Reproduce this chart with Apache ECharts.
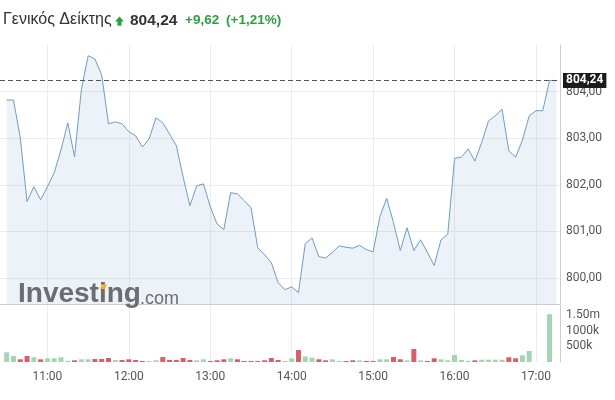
<!DOCTYPE html>
<html><head><meta charset="utf-8">
<script src="https://cdn.jsdelivr.net/npm/echarts@6/dist/echarts.min.js"></script>
<style>html,body{margin:0;padding:0;background:#fff}#c{width:615px;height:400px}</style>
</head><body><div id="c"></div>
<script>
const times = ['10:30','10:35','10:40','10:45','10:50','10:55',
 '11:00','11:05','11:10','11:15','11:20','11:25','11:30','11:35','11:40','11:45','11:50','11:55',
 '12:00','12:05','12:10','12:15','12:20','12:25','12:30','12:35','12:40','12:45','12:50','12:55',
 '13:00','13:05','13:10','13:15','13:20','13:25','13:30','13:35','13:40','13:45','13:50','13:55',
 '14:00','14:05','14:10','14:15','14:20','14:25','14:30','14:35','14:40','14:45','14:50','14:55',
 '15:00','15:05','15:10','15:15','15:20','15:25','15:30','15:35','15:40','15:45','15:50','15:55',
 '16:00','16:05','16:10','16:15','16:20','16:25','16:30','16:35','16:40','16:45','16:50','16:55',
 '17:00','17:05','17:10','17:15'];
const prices = [803.82,803.82,803.01,801.64,801.96,801.68,
 801.96,802.26,802.75,803.33,802.60,804.04,804.77,804.70,804.36,803.31,803.35,803.31,
 803.14,803.05,802.81,802.99,803.44,803.33,803.09,802.84,802.17,801.55,801.98,802.02,
 801.53,801.16,801.04,801.83,801.81,801.66,801.51,800.65,800.50,800.33,799.90,799.75,
 799.81,799.69,800.74,800.86,800.46,800.43,800.55,800.69,800.66,800.64,800.70,800.61,
 800.56,801.32,801.71,801.19,800.59,801.08,800.59,800.82,800.55,800.27,800.82,800.94,
 802.57,802.59,802.77,802.51,802.91,803.37,803.48,803.62,802.73,802.59,802.96,803.48,
 803.59,803.59,804.24,804.24];
// volumes in thousands
const volumes = [309,191,86,191,150,86,
 118,118,150,41,54,86,86,96,96,127,64,64,
 86,64,32,32,54,159,64,64,127,64,54,86,
 32,54,86,118,86,32,32,32,54,127,64,16,
 118,382,175,137,86,54,86,32,32,54,54,32,
 32,86,86,159,86,54,414,54,32,118,86,54,
 223,64,41,54,73,73,73,73,150,118,213,350,
 0,0,1520,0];
const xTickLabels = ['11:00','12:00','13:00','14:00','15:00','16:00','17:00'];
const priceTicks = [800,801,802,803,804];
const volumeTicks = [500,1000,1500];
const lastPrice = 804.24;
const headerName = 'Γενικός Δείκτης';
const headerLast = '804,24';
const headerChange = '+9,62';
const headerPct = '(+1,21%)';

function toMin(t){const p=t.split(':');return (+p[0])*60+(+p[1]);}
function fmtTime(v){const h=Math.floor(v/60),m=Math.round(v%60);return h+':'+(m<10?'0':'')+m;}
function fmtPrice(v){return v.toFixed(2).replace('.',',');}
function fmtVol(v){return v>=1500?(v/1000).toFixed(2)+'m':v+'k';}

const GREEN='#a3d5b2', RED='#d65f69';
const labelColor='#555';
const gridColor='#ececec';
const xMinutes = xTickLabels.map(toMin);

const chart = echarts.init(document.getElementById('c'), null, {renderer:'canvas'});
chart.setOption({
  animation:false,
  backgroundColor:'#fff',
  grid:[
    {left:0, right:55, top:45, bottom:96},
    {left:0, right:55, top:305, bottom:38}
  ],
  xAxis:[
    {gridIndex:0, type:'value', min:625.06, max:1037.7,
     axisLine:{show:true, lineStyle:{color:'#cccccc'}},
     axisTick:{show:false, customValues:xMinutes},
     axisLabel:{show:false, customValues:xMinutes},
     splitLine:{show:true, lineStyle:{color:gridColor}}},
    {gridIndex:1, type:'value', min:625.06, max:1037.7,
     axisLine:{show:false},
     axisTick:{show:false, customValues:xMinutes},
     axisLabel:{show:true, customValues:xMinutes, formatter:fmtTime, color:labelColor,
       fontFamily:'Roboto', fontSize:12, margin:9},
     splitLine:{show:true, lineStyle:{color:gridColor}}}
  ],
  yAxis:[
    {gridIndex:0, type:'value', position:'right', min:799.443, max:805.0,
     axisLine:{show:true, lineStyle:{color:'#cccccc'}},
     axisTick:{show:false, customValues:priceTicks},
     axisLabel:{customValues:priceTicks, formatter:fmtPrice, color:labelColor,
       fontFamily:'Roboto', fontSize:12, margin:6},
     splitLine:{show:true, lineStyle:{color:gridColor}}},
    {gridIndex:1, type:'value', position:'right', min:0, max:1815,
     axisLine:{show:true, lineStyle:{color:'#cccccc'}},
     axisTick:{show:false, customValues:volumeTicks},
     axisLabel:{customValues:volumeTicks, formatter:fmtVol, color:labelColor,
       fontFamily:'Roboto', fontSize:12, margin:6},
     splitLine:{show:false}}
  ],
  series:[
    {type:'line', xAxisIndex:0, yAxisIndex:0, symbol:'none',
     data:times.map((t,i)=>[toMin(t),prices[i]]),
     lineStyle:{color:'#6f9cc5', width:1},
     areaStyle:{color:'rgba(100,150,200,0.18)', origin:'start'},
     markLine:{symbol:'none', silent:true,
       lineStyle:{color:'#555', type:[5,3], width:1},
       label:{position:'end', formatter:fmtPrice(lastPrice), backgroundColor:'#1c1c1c',
         color:'#fff', fontWeight:'bold', fontFamily:'Roboto', fontSize:12,
         padding:[2,3,1,3], distance:3},
       data:[{yAxis:lastPrice}]}},
    {type:'bar', xAxisIndex:1, yAxisIndex:1, barWidth:5,
     data:times.map((t,i)=>({value:[toMin(t),volumes[i]],
       itemStyle:{color:(i===0||prices[i]>=prices[i-1])?GREEN:RED}}))}
  ],
  graphic:[
    {type:'text', left:3, top:12, style:{text:headerName, font:'16px "Liberation Sans", Arial', fill:'#333'}},
    {type:'polygon', shape:{points:[[119.5,16.5],[124,21.5],[121.5,21.5],[121.5,25.7],[117.5,25.7],[117.5,21.5],[115,21.5]]}, style:{fill:'#2e9e41'}},
    {type:'text', left:130, top:12.5, style:{text:headerLast, font:'bold 15.5px "Liberation Sans", Arial', fill:'#333'}},
    {type:'text', left:185, top:13.5, style:{text:headerChange, font:'bold 13.5px "Liberation Sans", Arial', fill:'#2e9e41'}},
    {type:'text', left:226, top:13.5, style:{text:headerPct, font:'bold 13.5px "Liberation Sans", Arial', fill:'#2e9e41'}},
    {type:'text', left:18, top:280, z:10, style:{text:'Investing', font:'bold 28px "Liberation Sans", Arial', fill:'#6b6d70'}},
    {type:'polygon', z:11, shape:{points:[[100,289],[102,284.5],[107,284.5],[105,289]]}, style:{fill:'#f2b42a'}},
    {type:'text', left:140, top:290, z:10, style:{text:'.com', font:'18px "Liberation Sans", Arial', fill:'#6b6d70'}}
  ]
});
</script></body></html>
